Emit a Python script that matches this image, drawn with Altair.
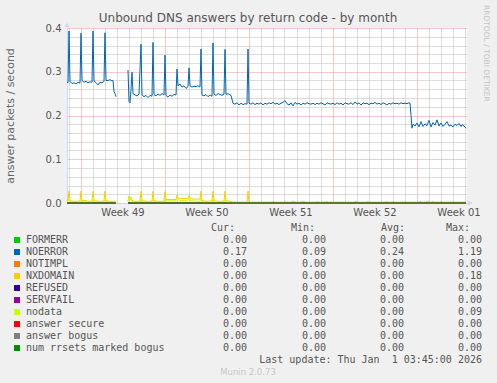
import altair as alt
import pandas as pd

BASE = pd.Timestamp("2025-11-28T00:00:00Z")   # hours below are counted from here
START_H, END_H = 21, 821                      # visible period

# ---- series: (hours since BASE, answers/s); None = no data (gap) ----
NOERROR = [
    (21, .276), (23, .275), (25, .393), (27, .278), (31, .273), (35, .275), (39, .272), (43, .276),
    (47, .274), (49, .388), (51, .280), (55, .276), (59, .278), (63, .275), (67, .277), (71, .276),
    (73, .393), (75, .279), (79, .275), (83, .270), (87, .276), (91, .275), (95, .278), (97, .389),
    (99, .280), (103, .280), (107, .282), (111, .279), (113, .280), (115, .255), (117, .250), (119, .243),
    (131, None),
    (143, .304), (145, .232), (147, .229), (149, .260), (151, .299), (153, .250), (157, .247), (161, .245),
    (165, .249), (169, .363), (171, .247), (175, .243), (179, .246), (183, .241), (187, .246), (191, .244),
    (193, .367), (195, .248), (199, .245), (203, .249), (207, .246), (211, .250), (215, .247), (217, .338),
    (219, .246), (223, .242), (227, .247), (231, .244), (235, .248), (239, .247), (241, .306), (243, .268),
    (247, .272), (251, .265), (255, .268), (259, .262), (263, .266), (265, .309), (267, .268), (271, .265),
    (275, .267), (279, .266), (283, .268), (287, .265), (289, .352), (291, .247), (295, .245), (299, .248),
    (303, .243), (307, .247), (311, .244), (313, .366), (315, .249), (319, .246), (323, .250), (327, .248),
    (331, .246), (335, .249), (337, .351), (339, .248), (343, .250), (347, .247), (349, .246), (353, .228),
    (357, .226), (361, .229), (365, .224), (369, .228), (373, .225), (377, .227), (381, .226), (383, .352),
    (385, .228), (389, .226), (393, .229), (397, .225), (401, .228), (405, .226), (409, .229), (413, .224),
    (417, .228), (421, .226), (425, .229), (429, .227), (433, .230), (437, .226), (441, .228), (445, .225),
    (449, .228), (453, .230), (457, .234), (461, .227), (465, .224), (469, .229), (473, .222), (477, .230),
    (481, .226), (485, .228), (489, .224), (493, .228), (497, .226), (501, .229), (505, .227), (509, .226),
    (513, .228), (517, .225), (521, .228), (525, .226), (529, .229), (533, .227), (537, .224), (541, .229),
    (545, .227), (549, .226), (553, .228), (557, .225), (561, .229), (565, .226), (569, .228), (573, .224),
    (577, .229), (581, .227), (585, .226), (589, .229), (593, .225), (597, .231), (601, .226), (605, .229),
    (609, .224), (613, .229), (617, .227), (621, .228), (625, .225), (629, .228), (633, .227), (637, .230),
    (641, .226), (645, .228), (649, .225), (653, .229), (657, .227), (661, .224), (665, .228), (669, .226),
    (673, .229), (677, .227), (681, .228), (685, .226), (689, .229), (693, .227), (697, .228), (701, .227),
    (705, .229), (707, .228), (709, .200), (711, .171), (713, .180), (717, .176), (721, .183), (725, .174),
    (729, .186), (733, .175), (737, .181), (741, .177), (745, .189), (749, .174), (753, .184), (757, .178),
    (761, .190), (765, .176), (769, .183), (773, .175), (777, .180), (781, .186), (785, .176), (789, .178),
    (793, .174), (797, .180), (801, .177), (805, .182), (809, .175), (811, .179), (815, .176), (819, .171),
]

NXDOMAIN = [
    (21, .004), (23, .006), (25, .027), (27, .005), (35, .004), (45, .004), (47, .005), (49, .027),
    (51, .005), (59, .006), (63, .004), (71, .004), (73, .027), (75, .005), (85, .004), (95, .004),
    (97, .027), (99, .005), (109, .004), (119, .004),
    (131, None),
    (143, .004), (145, .016), (147, .008), (149, .014), (151, .006), (155, .004), (167, .004), (169, .027),
    (171, .005), (181, .004), (191, .004), (193, .027), (195, .005), (205, .004), (215, .004), (217, .026),
    (219, .008), (239, .008), (241, .018), (243, .012), (247, .010), (263, .010), (265, .017), (267, .010),
    (271, .009), (287, .009), (289, .027), (291, .005), (301, .004), (311, .005), (313, .027), (315, .005),
    (325, .004), (335, .004), (337, .027), (339, .005), (349, .004), (353, .002), (381, .002), (383, .027),
    (385, .002), (431, .002), (433, .004), (435, .002), (455, .002), (457, .004), (459, .002), (469, .002),
    (471, .004), (475, .004), (477, .002), (489, .002), (491, .004), (495, .004), (497, .002), (519, .002),
    (521, .004), (523, .002), (539, .002), (541, .004), (543, .002), (597, .002), (599, .004), (601, .002),
    (621, .002), (623, .004), (625, .002), (659, .002), (661, .004), (663, .002), (671, .002), (673, .004),
    (675, .002), (695, .002), (697, .004), (699, .002), (725, .002), (727, .004), (729, .002), (739, .002),
    (741, .004), (745, .004), (747, .002), (751, .002), (753, .004), (755, .002), (767, .002), (769, .004),
    (771, .002), (791, .002), (793, .004), (795, .002), (819, .002),
]

NODATA = [
    (21, .002), (23, .003), (25, .012), (27, .003), (47, .002), (49, .012), (51, .003), (71, .002),
    (73, .012), (75, .003), (95, .002), (97, .012), (99, .003), (119, .002),
    (131, None),
    (143, .003), (145, .012), (147, .006), (149, .012), (151, .004), (155, .002), (167, .002), (169, .012),
    (171, .003), (191, .002), (193, .012), (195, .003), (215, .002), (217, .012), (219, .005), (239, .005),
    (241, .013), (243, .008), (247, .006), (263, .006), (265, .012), (267, .006), (271, .005), (287, .004),
    (289, .012), (291, .002), (311, .002), (313, .012), (315, .002), (335, .002), (337, .012), (339, .002),
    (349, .002), (353, .0), (819, .0),
]

ZERO = [(21, 0.0), (119, 0.0), (131, None), (143, 0.0), (819, 0.0)]

# ---- legend ----
names = ["FORMERR", "NOERROR", "NOTIMPL", "NXDOMAIN", "REFUSED", "SERVFAIL", "nodata",
         "answer secure", "answer bogus", "num rrsets marked bogus"]
colors = ["#00CC00", "#0066B3", "#FF8000", "#FFCC00", "#330099", "#990099", "#CCFF00",
          "#FF0000", "#808080", "#008F00"]
cur_v = [0.00, 0.17, 0.00, 0.00, 0.00, 0.00, 0.00, 0.00, 0.00, 0.00]
min_v = [0.00, 0.09, 0.00, 0.00, 0.00, 0.00, 0.00, 0.00, 0.00, 0.00]
avg_v = [0.00, 0.24, 0.00, 0.00, 0.00, 0.00, 0.00, 0.00, 0.00, 0.00]
max_v = [0.00, 1.19, 0.00, 0.18, 0.00, 0.00, 0.09, 0.00, 0.00, 0.00]
headers = ["Cur:", "Min:", "Avg:", "Max:"]
last_update = "Last update: Thu Jan \u00a01 03:45:00 2026"
version = "Munin 2.0.73"
title = "Unbound DNS answers by return code - by month"
y_title = "answer packets / second"
watermark = "RRDTOOL / TOBI OETIKER"

# ------------------------------------------------------------------
def ts(h):
    return (BASE + pd.Timedelta(hours=h)).strftime("%Y-%m-%dT%H:%M:%SZ")

def frame(pairs):
    return pd.DataFrame({"t": [ts(h) for h, _ in pairs], "v": [v for _, v in pairs]})

ms = lambda h: int((BASE + pd.Timedelta(hours=h)).value // 10**6)
x_domain = [ms(START_H), ms(END_H)]
day_values = [ms(h) for h in range(24, END_H, 24)]
y_values = [i / 50 for i in range(21)]

FONT = "DejaVu Sans"
MONO = "DejaVu Sans Mono"
AXISC = "#CFD6F8"
MINOR = "#BBBBBB"
MAJOR = "#EE9090"
TXT = "#555555"

x_scale = alt.Scale(type="utc", domain=x_domain, nice=False)
y_scale = alt.Scale(domain=[0, 0.4], nice=False, zero=True)

x_axis = alt.Axis(
    values=day_values, ticks=False, domainColor=AXISC, domainWidth=1,
    gridColor={"condition": {"test": "utcday(datum.value) == 0", "value": MAJOR}, "value": MINOR},
    gridDash=[1, 1], gridWidth=1, grid=True,
    labelExpr="utcday(datum.value) == 0 ? 'Week ' + utcFormat(time(datum.value) + 302400000, '%V') : ''",
    labelOffset=42, labelOverlap=False, labelFlush=False, labelPadding=4, labelAlign="center",
    labelFont=FONT, labelFontSize=10, labelColor=TXT, title=None,
)
y_axis = alt.Axis(
    values=y_values, ticks=False, domainColor=AXISC, domainWidth=1,
    gridColor={"condition": {"test": "round(datum.value * 50) % 5 == 0", "value": MAJOR}, "value": MINOR},
    gridDash=[1, 1], gridWidth=1, grid=True,
    labelExpr="round(datum.value * 50) % 5 == 0 ? format(datum.value, '.1f') : ''",
    labelOverlap=False, labelFlush=False, labelPadding=6,
    labelFont=FONT, labelFontSize=10, labelColor=TXT,
    title=y_title, titleFont=FONT, titleFontSize=11, titleFontWeight="normal", titleColor="#666666",
    titleX=-57, titleY=87.5, titleAngle=270, titleAlign="center", titleBaseline="middle",
)


def series(pairs, color, xa=None, ya=None):
    return alt.Chart(frame(pairs)).mark_line(color=color, strokeWidth=1, interpolate="linear").encode(
        x=alt.X("t:T", scale=x_scale, axis=xa),
        y=alt.Y("v:Q", scale=y_scale, axis=ya),
    )

order = [
    ("FORMERR", ZERO), ("NOERROR", NOERROR), ("NOTIMPL", ZERO), ("NXDOMAIN", NXDOMAIN),
    ("REFUSED", ZERO), ("SERVFAIL", ZERO), ("nodata", NODATA), ("answer secure", ZERO),
    ("answer bogus", ZERO), ("num rrsets marked bogus", ZERO),
]
layers = []
for i, (nm, pairs) in enumerate(order):
    col = colors[names.index(nm)]
    if i == 0:
        layers.append(series(pairs, col, x_axis, y_axis))
    else:
        layers.append(series(pairs, col, None, None))

one = pd.DataFrame({"s": [watermark]})
decor = [
    # axis arrows
    alt.Chart(one).mark_point(shape="triangle-up", filled=True, size=28, opacity=1, color=AXISC)
    .encode(x=alt.value(0), y=alt.value(-3)),
    alt.Chart(one).mark_point(shape="triangle-right", filled=True, size=28, opacity=1, color=AXISC)
    .encode(x=alt.value(403), y=alt.value(175)),
    # rrdtool watermark
    alt.Chart(one).mark_text(angle=90, align="left", baseline="middle", font=FONT, fontSize=7.5,
                             color="#C4C4C4")
    .encode(x=alt.value(419), y=alt.value(-23), text="s:N"),
]

# legend
row_scale = alt.Scale(type="point", domain=list(range(13)), range=[200, 344], padding=0)
ly = lambda: alt.Y("row:O", scale=row_scale, axis=None)
leg = pd.DataFrame({"row": list(range(1, 11)), "name": names, "color": colors,
                    "cur": cur_v, "min": min_v, "avg": avg_v, "max": max_v})
legend_layers = [
    alt.Chart(leg).mark_square(size=36, opacity=1).encode(
        x=alt.value(-50), y=ly(), color=alt.Color("color:N", scale=None)),
    alt.Chart(leg).mark_text(align="left", baseline="middle", font=MONO, fontSize=10, color=TXT).encode(
        x=alt.value(-41), y=ly(), text="name:N"),
]
for field, xr in zip(["cur", "min", "avg", "max"], [180, 259, 337, 415]):
    legend_layers.append(
        alt.Chart(leg).mark_text(align="right", baseline="middle", font=MONO, fontSize=10, color=TXT)
        .encode(x=alt.value(xr), y=ly(), text=alt.Text(f"{field}:Q", format=".2f")))
hdr = pd.DataFrame({"row": [0, 0, 0, 0], "h": headers, "k": [0, 1, 2, 3]})
for k, xr in enumerate([168, 248, 338, 403]):
    legend_layers.append(
        alt.Chart(hdr[hdr.k == k]).mark_text(align="right", baseline="middle", font=MONO, fontSize=10,
                                             color=TXT)
        .encode(x=alt.value(xr), y=ly(), text="h:N"))
foot = pd.DataFrame({"row": [11], "s": [last_update]})
legend_layers.append(
    alt.Chart(foot).mark_text(align="right", baseline="middle", font=MONO, fontSize=10, color=TXT)
    .encode(x=alt.value(415), y=ly(), text="s:N"))
ver = pd.DataFrame({"row": [12], "s": [version]})
legend_layers.append(
    alt.Chart(ver).mark_text(align="center", baseline="middle", font=FONT, fontSize=8.5, color="#C8C8C8")
    .encode(x=alt.value(181), y=ly(), text="s:N"))

chart = alt.layer(*layers, *decor, *legend_layers).resolve_scale(y="independent").resolve_axis(
    x="independent", y="independent"
).properties(
    width=400, height=175,
    title=alt.TitleParams(title, font=FONT, fontSize=12, fontWeight="normal", color=TXT,
                          anchor="middle", frame="group", dx=-19, dy=24, offset=4),
    autosize=alt.AutoSizeParams(type="none"),
    padding={"left": 67, "top": 28, "right": 30, "bottom": 180},
    background="#F0F0F0",
).configure_view(stroke=None, fill="#FFFFFF")

chart.save("out.html", embed_options={"renderer": "svg", "actions": False})
